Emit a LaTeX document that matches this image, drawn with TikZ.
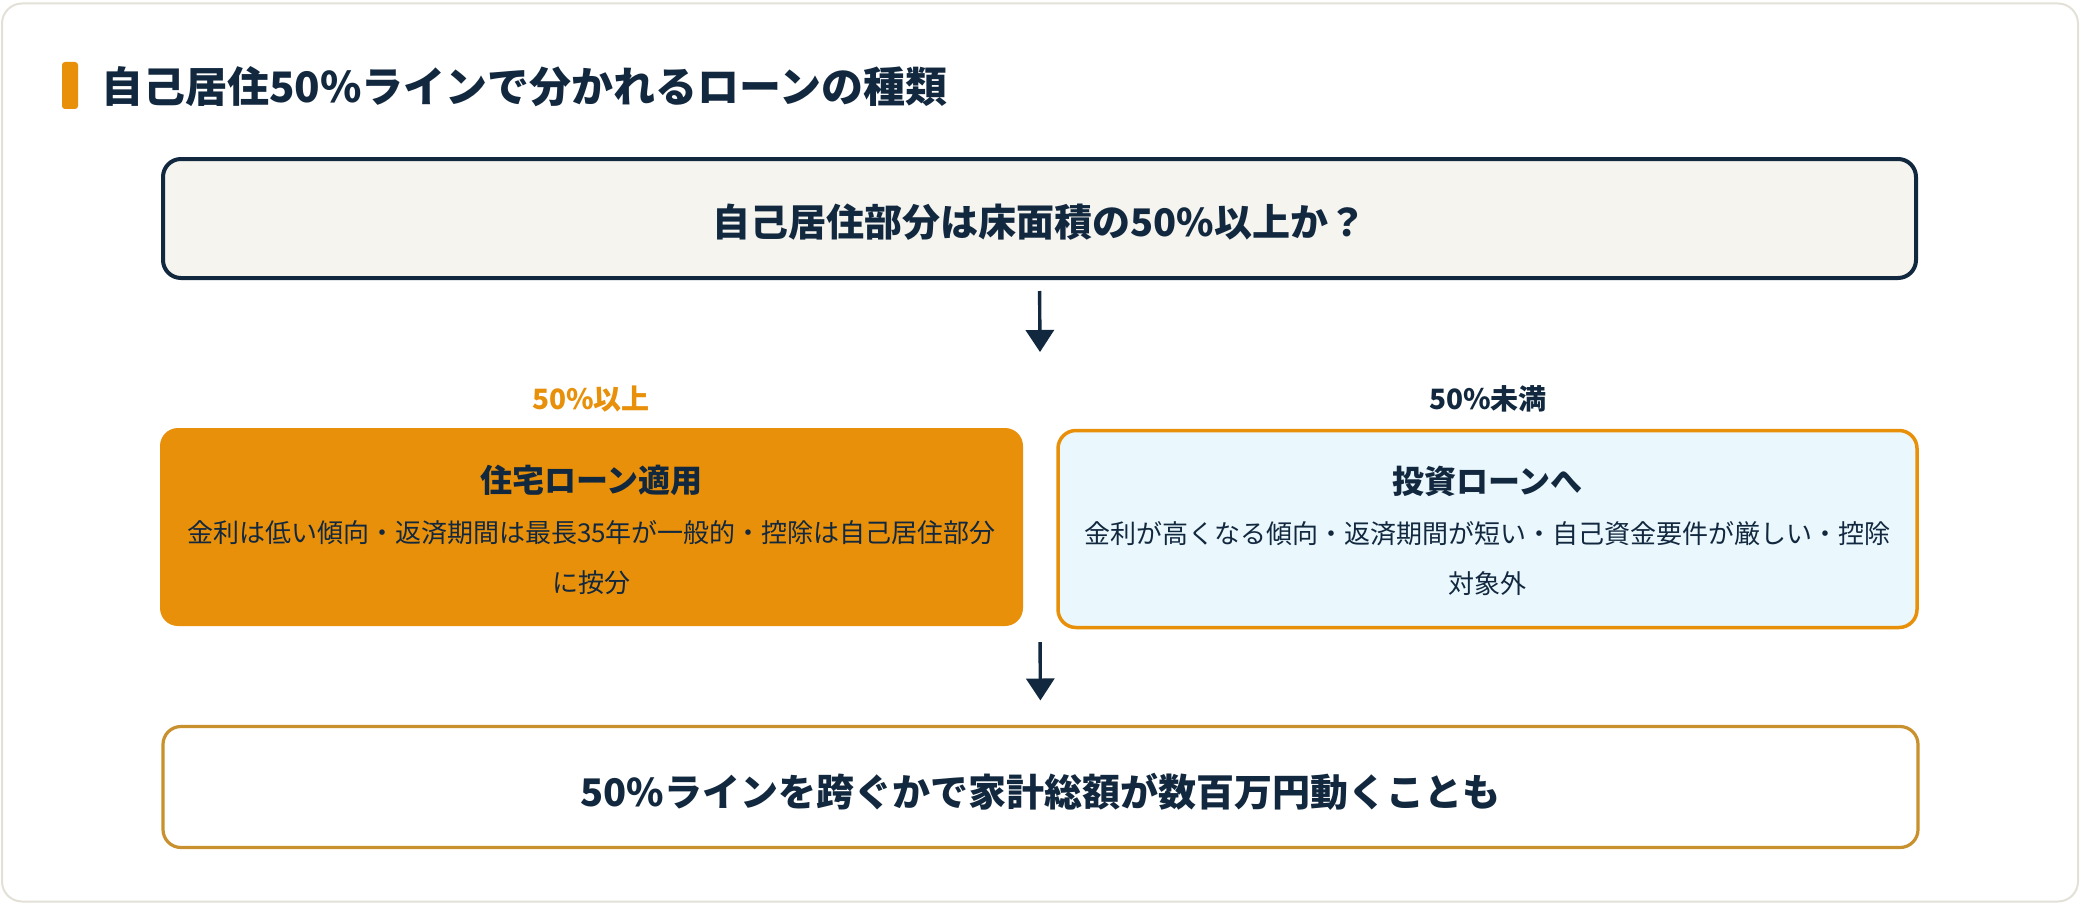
\documentclass[tikz,border=0pt]{standalone}
\usepackage{fontspec}
\setmainfont{Noto Sans CJK JP}
\usetikzlibrary{arrows.meta}
\definecolor{navy}{HTML}{12283F}
\definecolor{orng}{HTML}{E8900A}
\definecolor{qfill}{HTML}{F5F4EF}
\definecolor{cyanfill}{HTML}{EAF8FD}
\definecolor{gold}{HTML}{C8912E}
\definecolor{cardline}{HTML}{E3E1D7}
\tikzset{
  box/.style={rectangle, rounded corners=9pt, inner sep=0pt, outer sep=0pt},
  arr/.style={draw=navy, line width=1.7pt, -{Triangle[width=14pt,length=11pt]}},
  txt/.style={inner sep=0pt, text=navy, align=center},
}
\begin{document}
\begin{tikzpicture}[x=0.5pt, y=-0.5pt]
\useasboundingbox (0,0) rectangle (2080,904);
% card
\node[box, draw=cardline, line width=1pt, fill=white, rounded corners=10pt,
  minimum width=1038pt, minimum height=449pt] (card) at (1040,452.5) {};
% title
\node[rectangle, rounded corners=1.5pt, fill=orng, minimum width=8pt, minimum height=23.5pt, inner sep=0pt] (bar) at (70,85.5) {};
\node[txt, anchor=west, font=\fontsize{21}{25}\selectfont\bfseries] (title) at (101,87) {自己居住50\%ラインで分かれるローンの種類};
% question
\node[box, draw=navy, line width=2pt, fill=qfill, minimum width=876.5pt, minimum height=59.5pt] (q) at (1039.5,218.5) {};
\node[txt, font=\fontsize{19}{23}\selectfont\bfseries] (qt) at (1039.5,222) {自己居住部分は床面積の50\%以上か？};
\coordinate (a1end) at (1040,352);
\draw[arr, shorten <=6.5pt] (q.south) -- (a1end);
% labels
\node[txt, text=orng, font=\fontsize{14}{16}\selectfont\bfseries] (lyes) at (591,399) {50\%以上};
\node[txt, font=\fontsize{14}{16}\selectfont\bfseries] (lno) at (1488,399) {50\%未満};
% left box
\node[box, fill=orng, minimum width=431.5pt, minimum height=99pt] (lbox) at (591.5,527) {};
\node[txt, font=\fontsize{16}{19}\selectfont\bfseries] (lt) at (591.5,480) {住宅ローン適用};
\node[txt, font=\fontsize{13}{25}\selectfont] (lb) at (591.5,558) {金利は低い傾向・返済期間は最長35年が一般的・控除は自己居住部分\\に按分};
% right box
\node[box, draw=orng, line width=1.75pt, fill=cyanfill, minimum width=429.5pt, minimum height=98.5pt] (rbox) at (1487.5,529) {};
\node[txt, font=\fontsize{16}{19}\selectfont\bfseries] (rt) at (1487.5,481) {投資ローンへ};
\node[txt, font=\fontsize{13}{25}\selectfont] (rb) at (1487.5,559) {金利が高くなる傾向・返済期間が短い・自己資金要件が厳しい・控除\\対象外};
% arrow 2
\coordinate (row) at (1040,627);
% bottom box
\node[box, draw=gold, line width=1.6pt, fill=white, minimum width=877.5pt, minimum height=60.5pt] (bot) at (1040.5,787) {};
\node[txt, font=\fontsize{19}{23}\selectfont\bfseries] (bt) at (1040.5,792) {50\%ラインを跨ぐかで家計総額が数百万円動くことも};
\draw[arr, shorten <=7.5pt, shorten >=13pt] (row) -- (bot.north);
\end{tikzpicture}
\end{document}
